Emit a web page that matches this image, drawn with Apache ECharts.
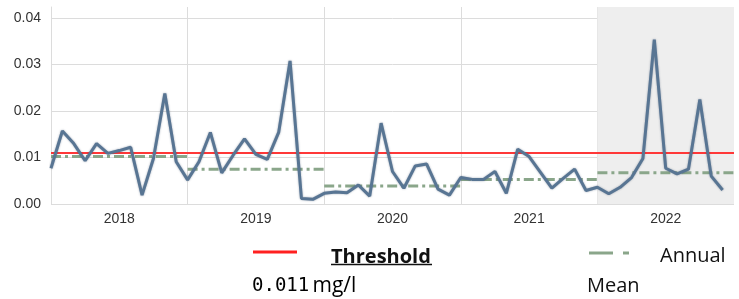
<!DOCTYPE html>
<html><head><meta charset="utf-8">
<script src="https://cdn.jsdelivr.net/npm/echarts@6/dist/echarts.min.js"></script>
<style>html,body{margin:0;padding:0;background:#fff}#c{width:739px;height:299px}</style>
</head><body><div id="c"></div>
<script>
// ---- data ----
const years = ['2018', '2019', '2020', '2021', '2022'];
const monthly2018 = [0.0077, 0.0157, 0.0130, 0.0093, 0.0130, 0.0109, 0.0115, 0.0122, 0.0019, 0.0098, 0.0238, 0.0091];
const monthly2019 = [0.0052, 0.0091, 0.0154, 0.0067, 0.0105, 0.0140, 0.0107, 0.0096, 0.0154, 0.0308, 0.0012, 0.0010];
const monthly2020 = [0.0023, 0.0026, 0.0024, 0.0041, 0.0017, 0.0174, 0.0070, 0.0034, 0.0082, 0.0086, 0.0032, 0.0019];
const monthly2021 = [0.0057, 0.0053, 0.0053, 0.0070, 0.0023, 0.0118, 0.0102, 0.0068, 0.0034, 0.0055, 0.0075, 0.0029];
const monthly2022 = [0.0036, 0.0022, 0.0036, 0.0057, 0.0098, 0.0354, 0.0077, 0.0065, 0.0075, 0.0225, 0.0060, 0.0030];
const annualMean = [0.0102, 0.0075, 0.0039, 0.0053, 0.0067];
const threshold = 0.011;
const yTicks = [0, 0.01, 0.02, 0.03, 0.04];
const shadedYear = '2022';

// ---- build ----
const monthly = [].concat(monthly2018, monthly2019, monthly2020, monthly2021, monthly2022);
const nMonths = years.length * 12;
const seriesData = monthly.map((v, i) => [i, v]);
const meanData = [];
annualMean.forEach((m, k) => {
  meanData.push([k * 12, m], [k * 12 + 12, m]);
  if (k < annualMean.length - 1) meanData.push([k * 12 + 12, '-']);
});
const shadeIdx = years.indexOf(shadedYear);

const chart = echarts.init(document.getElementById('c'), null, {renderer: 'canvas'});
const gridCol = '#dcdcdc';
const txt = '#333333';
const sans = '"Open Sans", "Noto Sans", sans-serif';
chart.setOption({
  animation: false,
  backgroundColor: '#ffffff',
  grid: {left: 51, right: 5, top: 7, bottom: 95, containLabel: false},
  xAxis: [{
    type: 'value', min: 0, max: nMonths, interval: 12,
    axisLine: {show: false}, axisTick: {show: false}, axisLabel: {show: false},
    splitLine: {show: true, showMaxLine: false, lineStyle: {color: gridCol, width: 1}}
  }, {
    type: 'category', data: years, position: 'bottom', boundaryGap: true,
    axisLine: {show: false}, axisTick: {show: false}, splitLine: {show: false},
    axisLabel: {fontFamily: 'Liberation Sans, Arial', fontSize: 14, color: txt, margin: 8}
  }],
  yAxis: {
    type: 'value', min: yTicks[0], max: 0.0424, interval: 0.01,
    axisLine: {show: true, lineStyle: {color: gridCol, width: 1}}, axisTick: {show: false},
    splitLine: {show: true, showMaxLine: false, lineStyle: {color: gridCol, width: 1}},
    axisLabel: {
      fontFamily: 'Liberation Sans, Arial', fontSize: 14, color: txt, margin: 10, showMaxLabel: false,
      formatter: v => yTicks.some(t => Math.abs(t - v) < 1e-9) ? v.toFixed(2) : ''
    }
  },
  series: [{
    type: 'line', xAxisIndex: 0, data: [], silent: true,
    markArea: {silent: true, itemStyle: {color: '#eeeeee'},
      data: [[{xAxis: shadeIdx * 12}, {xAxis: shadeIdx * 12 + 12}]]}
  }, {
    name: 'Threshold', type: 'line', xAxisIndex: 0, z: 3,
    data: [[0, threshold], [nMonths, threshold]],
    symbol: 'none', lineStyle: {color: '#ff3838', width: 2}
  }, {
    name: 'Annual Mean', type: 'line', xAxisIndex: 0, z: 4, connectNulls: false,
    data: meanData, symbol: 'none',
    lineStyle: {color: '#8aa68a', width: 3, type: [10, 4, 3, 4]}
  }, {
    name: 'Monthly', type: 'line', xAxisIndex: 0, z: 5,
    data: seriesData, symbol: 'none',
    lineStyle: {color: '#587593', width: 3, shadowBlur: 2, shadowColor: 'rgba(40,60,90,0.45)'}
  }],
  graphic: [
    {type: 'line', shape: {x1: 253, y1: 252, x2: 297, y2: 252}, style: {stroke: '#ff2020', lineWidth: 3}},
    {type: 'text', left: 331, top: 247, style: {text: 'Threshold', font: 'bold 20px ' + sans, fill: '#111'}},
    {type: 'line', shape: {x1: 331, y1: 264.5, x2: 432, y2: 264.5}, style: {stroke: '#111', lineWidth: 1.5}},
    {type: 'text', left: 252, top: 276, style: {
      text: '{m|0.011} {s|mg/l}',
      rich: {m: {fontFamily: 'DejaVu Sans Mono', fontSize: 19, color: '#111'},
             s: {fontFamily: sans, fontSize: 21, color: '#111'}}
    }},
    {type: 'line', shape: {x1: 589, y1: 253, x2: 613, y2: 253}, style: {stroke: '#8aa68a', lineWidth: 3}},
    {type: 'line', shape: {x1: 623, y1: 253, x2: 629, y2: 253}, style: {stroke: '#8aa68a', lineWidth: 3}},
    {type: 'text', left: 660, top: 246, style: {text: 'Annual', font: '20px ' + sans, fill: '#111'}},
    {type: 'text', left: 587, top: 276, style: {text: 'Mean', font: '20px ' + sans, fill: '#111'}}
  ]
});
</script></body></html>
